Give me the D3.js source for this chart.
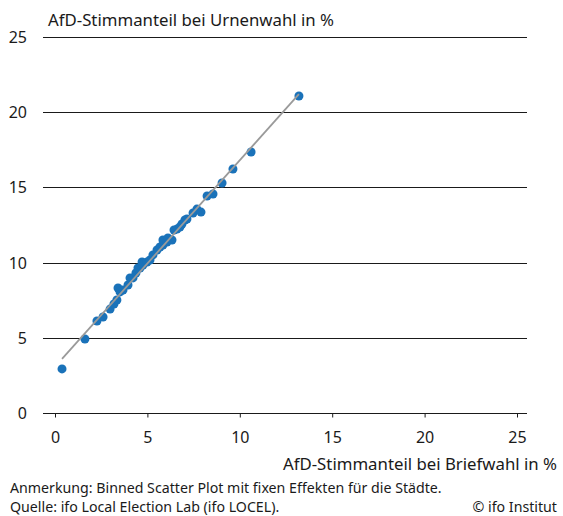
<!DOCTYPE html>
<html>
<head>
<meta charset="utf-8">
<script src="https://cdn.jsdelivr.net/npm/d3@7/dist/d3.min.js"></script>
<style>
  body { margin: 0; background: #fff; }
  svg text { font-family: "Source Sans Pro", "Noto Sans", sans-serif; fill: #1a1a1a; }
</style>
</head>
<body>
<div id="chart"></div>
<script>
// binned scatter: AfD share postal vote (x) vs. ballot box vote (y), in %
var briefwahl = [0.38, 1.62, 2.27, 2.60, 2.98, 3.19, 3.35, 3.41, 3.52, 3.68, 3.95, 4.06, 4.22, 4.38,
    4.49, 4.60, 4.71, 4.76, 4.98, 5.14, 5.30, 5.52, 5.68, 5.84, 5.84, 6.06, 6.11, 6.33, 6.44, 6.60,
    6.76, 6.87, 7.03, 7.14, 7.47, 7.68, 7.90, 8.23, 8.55, 9.04, 9.63, 10.61, 13.20];
var urnenwahl = [2.93, 4.92, 6.12, 6.38, 6.91, 7.25, 7.51, 8.31, 8.05, 8.18, 8.51, 8.98, 8.98, 9.31,
    9.64, 9.64, 10.04, 9.84, 10.04, 10.17, 10.51, 10.84, 11.04, 11.17, 11.50, 11.37, 11.64, 11.50, 12.17, 12.23,
    12.37, 12.57, 12.83, 12.90, 13.30, 13.56, 13.36, 14.43, 14.56, 15.29, 16.22, 17.35, 21.08];
var fitIntercept = 3.07, fitSlope = 1.374;
var xTicks = [0, 5, 10, 15, 20, 25];
var yTicks = [0, 5, 10, 15, 20, 25];

var width = 563, height = 516;
var svg = d3.select('#chart').append('svg')
    .attr('width', width).attr('height', height);

var x = d3.scaleLinear().domain([0, 25]).range([55, 517]);
var y = d3.scaleLinear().domain([0, 25]).range([413, 37]);
var plotLeft = 43, plotRight = 527;

// gridlines
svg.append('g').selectAll('line')
    .data(yTicks.filter(d => d > 0))
    .enter().append('line')
    .attr('x1', plotLeft).attr('x2', plotRight)
    .attr('y1', d => Math.round(y(d)) + 0.5).attr('y2', d => Math.round(y(d)) + 0.5)
    .attr('stroke', '#1a1a1a').attr('stroke-width', 1);

// y labels
svg.append('g').selectAll('text')
    .data(yTicks)
    .enter().append('text')
    .attr('x', 27).attr('y', d => y(d) + 6)
    .attr('text-anchor', 'end')
    .style('font-size', '16px')
    .text(d => d);

// x axis
var xAxis = d3.axisBottom(x).tickValues(xTicks).tickSize(4).tickSizeOuter(0).tickPadding(14);
var gx = svg.append('g').attr('transform', 'translate(0,' + (Math.round(y(0)) + 0.5) + ')').call(xAxis);
gx.select('.domain').remove();
gx.append('line').attr('x1', plotLeft).attr('x2', plotRight)
    .attr('stroke', '#1a1a1a');
gx.selectAll('.tick line').attr('stroke', '#1a1a1a');
gx.selectAll('.tick text')
    .style('font-size', '16px')
    .style('font-family', '"Source Sans Pro", "Noto Sans", sans-serif')
    .attr('fill', '#1a1a1a');

// points
var xs = d3.extent(briefwahl);
svg.append('g').selectAll('circle')
    .data(briefwahl.map((d, i) => [d, urnenwahl[i]]))
    .enter().append('circle')
    .attr('cx', d => x(d[0])).attr('cy', d => y(d[1]))
    .attr('r', 4.5)
    .attr('fill', '#1a72b9');

// fit line over points
svg.append('line')
    .attr('x1', x(xs[0])).attr('y1', y(fitIntercept + fitSlope * xs[0]))
    .attr('x2', x(xs[1])).attr('y2', y(fitIntercept + fitSlope * xs[1]))
    .attr('stroke', '#9a9a9a').attr('stroke-width', 1.8);

// titles
svg.append('text').attr('x', 48).attr('y', 26)
    .style('font-size', '16.8px')
    .text('AfD-Stimmanteil bei Urnenwahl in %');

svg.append('text').attr('x', 557).attr('y', 470)
    .attr('text-anchor', 'end')
    .style('font-size', '16.8px')
    .text('AfD-Stimmanteil bei Briefwahl in %');

svg.append('text').attr('x', 10).attr('y', 493)
    .style('font-size', '14.2px')
    .text('Anmerkung: Binned Scatter Plot mit fixen Effekten für die Städte.');
svg.append('text').attr('x', 10).attr('y', 512)
    .style('font-size', '14.2px')
    .text('Quelle: ifo Local Election Lab (ifo LOCEL).');
svg.append('text').attr('x', 557).attr('y', 512)
    .attr('text-anchor', 'end')
    .style('font-size', '14.2px')
    .text('© ifo Institut');
</script>
</body>
</html>
